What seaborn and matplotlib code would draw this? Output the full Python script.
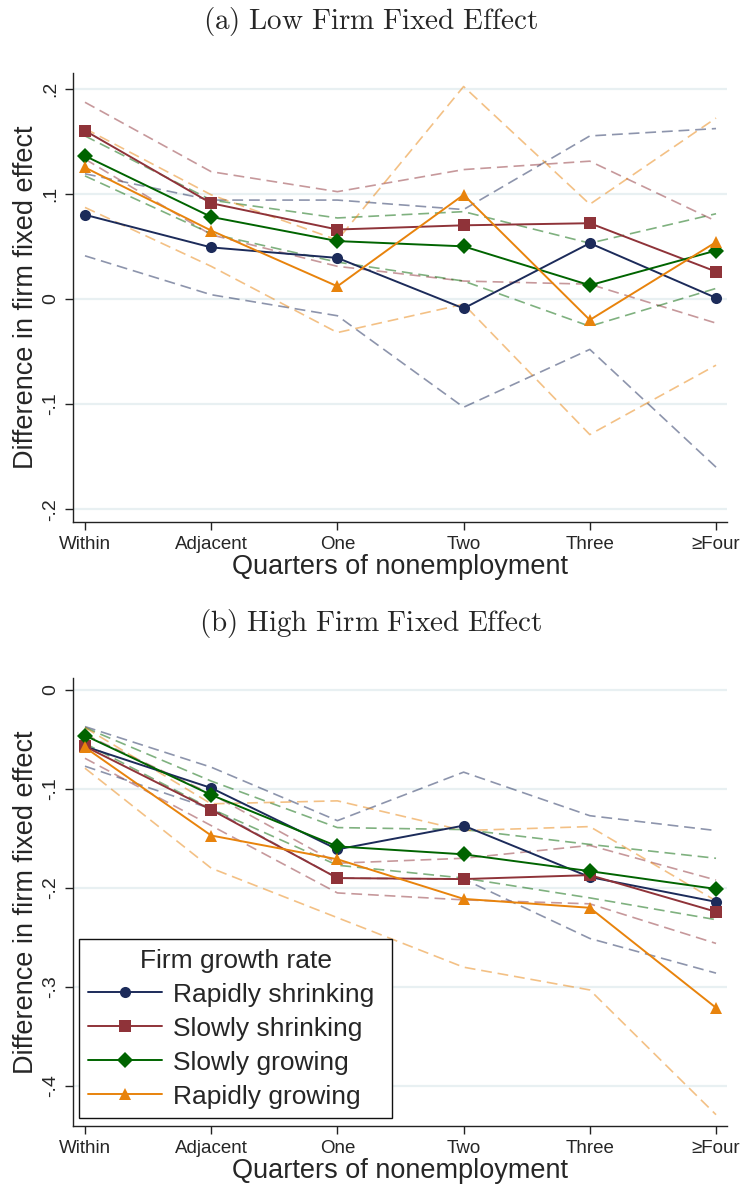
import numpy as np
import pandas as pd
import matplotlib
matplotlib.use("Agg")
import matplotlib.pyplot as plt
import seaborn as sns

# ── Data ──────────────────────────────────────────────────────────────────────
quarters = ["Within", "Adjacent", "One", "Two", "Three", "≥Four"]
groups = ["Rapidly shrinking", "Slowly shrinking", "Slowly growing", "Rapidly growing"]

# (a) Low firm fixed effect: point estimates, lower / upper bounds
low_rs    = [0.080, 0.049, 0.039, -0.009, 0.053, 0.001]
low_rs_lo = [0.041, 0.004, -0.016, -0.103, -0.048, -0.160]
low_rs_hi = [0.119, 0.094, 0.094, 0.085, 0.155, 0.162]
low_ss    = [0.160, 0.091, 0.066, 0.070, 0.072, 0.026]
low_ss_lo = [0.133, 0.061, 0.031, 0.017, 0.014, -0.023]
low_ss_hi = [0.187, 0.121, 0.102, 0.123, 0.131, 0.074]
low_sg    = [0.136, 0.078, 0.055, 0.050, 0.013, 0.046]
low_sg_lo = [0.117, 0.062, 0.035, 0.017, -0.026, 0.010]
low_sg_hi = [0.155, 0.094, 0.077, 0.083, 0.053, 0.081]
low_rg    = [0.125, 0.065, 0.012, 0.099, -0.020, 0.054]
low_rg_lo = [0.087, 0.031, -0.032, -0.005, -0.129, -0.063]
low_rg_hi = [0.162, 0.099, 0.056, 0.202, 0.090, 0.172]

# (b) High firm fixed effect
high_rs    = [-0.057, -0.099, -0.161, -0.137, -0.189, -0.214]
high_rs_lo = [-0.077, -0.120, -0.190, -0.191, -0.251, -0.286]
high_rs_hi = [-0.037, -0.078, -0.132, -0.083, -0.127, -0.142]
high_ss    = [-0.057, -0.121, -0.190, -0.191, -0.187, -0.224]
high_ss_lo = [-0.069, -0.137, -0.205, -0.212, -0.216, -0.256]
high_ss_hi = [-0.045, -0.105, -0.175, -0.170, -0.157, -0.192]
high_sg    = [-0.046, -0.106, -0.158, -0.166, -0.183, -0.201]
high_sg_lo = [-0.054, -0.120, -0.177, -0.190, -0.210, -0.232]
high_sg_hi = [-0.038, -0.092, -0.139, -0.141, -0.156, -0.170]
high_rg    = [-0.058, -0.147, -0.171, -0.211, -0.220, -0.321]
high_rg_lo = [-0.079, -0.180, -0.230, -0.280, -0.303, -0.429]
high_rg_hi = [-0.038, -0.115, -0.112, -0.142, -0.138, -0.213]

colors = ["#1c2b5a", "#8f3339", "#006400", "#e8830c"]
markers = ["o", "s", "D", "^"]


def build(est, lo, hi):
    rows = []
    for g, e, l, h in zip(groups, est, lo, hi):
        for i, q in enumerate(quarters):
            rows.append({"group": g, "quarter": q, "pos": i,
                         "est": e[i], "lo": l[i], "hi": h[i]})
    return pd.DataFrame(rows)


df_low = build([low_rs, low_ss, low_sg, low_rg],
               [low_rs_lo, low_ss_lo, low_sg_lo, low_rg_lo],
               [low_rs_hi, low_ss_hi, low_sg_hi, low_rg_hi])
df_high = build([high_rs, high_ss, high_sg, high_rg],
                [high_rs_lo, high_ss_lo, high_sg_lo, high_rg_lo],
                [high_rs_hi, high_ss_hi, high_sg_hi, high_rg_hi])

# ── Style ─────────────────────────────────────────────────────────────────────
sns.set_style("ticks")
plt.rcParams["font.family"] = ["Liberation Sans", "DejaVu Sans"]
plt.rcParams["mathtext.fontset"] = "cm"

pal = dict(zip(groups, colors))
mk = dict(zip(groups, markers))

fig = plt.figure(figsize=(7.41, 11.88), dpi=100)
ax_a = fig.add_axes([0.0985, 0.5609, 0.8826, 0.3777])
ax_b = fig.add_axes([0.0985, 0.0522, 0.8826, 0.3771])


def draw(ax, d, ylim, yticks, yticklabels):
    # dashed bounds first, solid estimates on top
    for col in ["hi", "lo"]:
        sns.lineplot(data=d, x="pos", y=col, hue="group", hue_order=groups,
                     palette=pal, legend=False, errorbar=None, ax=ax,
                     lw=1.2, alpha=0.5, linestyle=(0, (6.5, 3.5)), zorder=2)
    sns.lineplot(data=d, x="pos", y="est", hue="group", hue_order=groups,
                 style="group", style_order=groups, markers=mk, dashes=False,
                 palette=pal, legend=False, errorbar=None, ax=ax,
                 lw=1.4, markersize=8, markeredgewidth=0, zorder=3)
    ax.set_xlim(-0.095, 5.087)
    ax.set_ylim(*ylim)
    ax.set_xticks(range(len(quarters)))
    ax.set_xticklabels(quarters, fontsize=13.5)
    ax.set_yticks(yticks)
    ax.set_yticklabels(yticklabels, fontsize=14, rotation=90, va="center")
    ax.yaxis.grid(True, color="#e8f0f2", lw=1.6)
    ax.xaxis.grid(False)
    ax.set_axisbelow(True)
    sns.despine(ax=ax)
    for s in ["left", "bottom"]:
        ax.spines[s].set_linewidth(1.0)
        ax.spines[s].set_color("#222222")
    ax.tick_params(direction="out", length=6, width=1.0, color="#222222", pad=4)
    ax.set_xlabel("Quarters of nonemployment", fontsize=19.5, labelpad=1)
    ax.set_ylabel("Difference in firm fixed effect", fontsize=19.5, labelpad=2)


draw(ax_a, df_low, (-0.2118, 0.2149), [-0.2, -0.1, 0, 0.1, 0.2],
     ["-.2", "-.1", "0", ".1", ".2"])
draw(ax_b, df_high, (-0.4404, 0.0121), [-0.4, -0.3, -0.2, -0.1, 0],
     ["-.4", "-.3", "-.2", "-.1", "0"])

fig.text(0.5, 1 - 21 / 1188, r"$\mathrm{(a)\ Low\ Firm\ Fixed\ Effect}$",
         ha="center", va="center", fontsize=21)
fig.text(0.5, 1 - 623 / 1188, r"$\mathrm{(b)\ High\ Firm\ Fixed\ Effect}$",
         ha="center", va="center", fontsize=21)

handles = ax_b.lines[-4:]
leg = ax_b.legend(handles, groups, title="Firm growth rate", loc="lower left",
                  bbox_to_anchor=(0.0092, 0.0179, 0.4786, 0.5), mode="expand",
                  borderaxespad=0, fontsize=19, title_fontsize=19,
                  handlelength=2.8, labelspacing=0.38, handletextpad=0.4,
                  borderpad=0.35, fancybox=False, framealpha=1,
                  edgecolor="#111111")
leg.get_frame().set_linewidth(1.0)

plt.savefig("out.png", dpi=100)
plt.close()
